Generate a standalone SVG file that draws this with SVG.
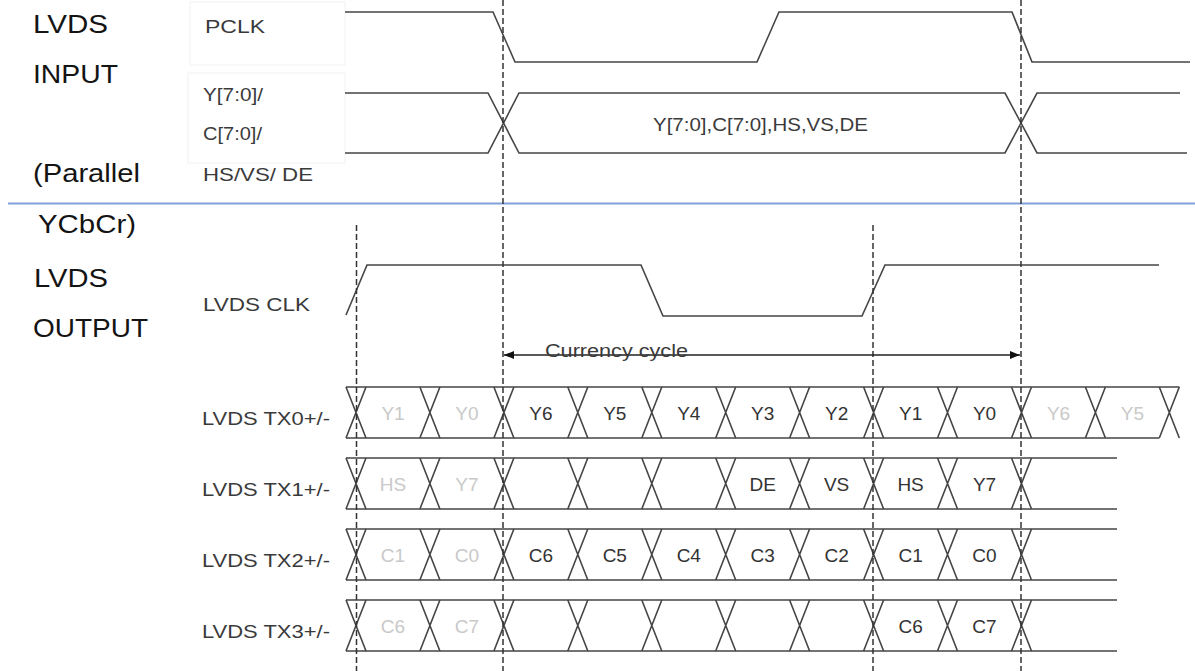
<svg xmlns="http://www.w3.org/2000/svg" xmlns:xlink="http://www.w3.org/1999/xlink" width="1195" height="671" viewBox="0 0 1195 671">
<style>
text{font-family:"Liberation Sans",Arial,sans-serif}
.w{fill:none;stroke:#454545;stroke-width:1.6;stroke-linejoin:miter}
.dash{fill:none;stroke:#333;stroke-width:1.5;stroke-dasharray:6 3}
.big{font-size:26px;fill:#141414}
.lbl{font-size:18px;fill:#3a3a3a}
.cell{font-size:19px;fill:#333;text-anchor:middle}
.g{fill:#c9c9c9}
.faint{fill:none;stroke:#f2f2f2;stroke-width:1}
</style>
<defs>
<path id="x" class="w" d="M-10,0 L10,51 M10,0 L-10,51"/>
<marker id="ah" viewBox="0 0 10 8" refX="10" refY="4" markerWidth="10" markerHeight="8" markerUnits="userSpaceOnUse" orient="auto-start-reverse">
<path d="M0,0 L10,4 L0,8 z" fill="#111"/>
</marker>
</defs>
<rect width="1195" height="671" fill="#fff"/>

<g id="section-labels">
<text class="big" x="33" y="33" textLength="75" lengthAdjust="spacingAndGlyphs">LVDS</text>
<text class="big" x="33" y="83" textLength="85" lengthAdjust="spacingAndGlyphs">INPUT</text>
<text class="big" x="33" y="182" textLength="107" lengthAdjust="spacingAndGlyphs">(Parallel</text>
<text class="big" x="38" y="233" textLength="98" lengthAdjust="spacingAndGlyphs">YCbCr)</text>
<text class="big" x="34" y="287" textLength="74" lengthAdjust="spacingAndGlyphs">LVDS</text>
<text class="big" x="33" y="337" textLength="115" lengthAdjust="spacingAndGlyphs">OUTPUT</text>
<line x1="8" y1="203.5" x2="1195" y2="203.5" stroke="#7fa2d8" stroke-width="2"/>
</g>

<g id="pclk">
<rect class="faint" x="190" y="2" width="155" height="63"/>
<text class="lbl" x="205" y="33" textLength="60" lengthAdjust="spacingAndGlyphs">PCLK</text>
<polyline class="w" points="345,12 493,12 515,62 757,62 779,12 1012,12 1032,62 1190,62"/>
</g>

<g id="parallel-bus">
<rect class="faint" x="188" y="73" width="157" height="90"/>
<text class="lbl" x="203" y="101" textLength="60" lengthAdjust="spacingAndGlyphs">Y[7:0]/</text>
<text class="lbl" x="203" y="140" textLength="59" lengthAdjust="spacingAndGlyphs">C[7:0]/</text>
<text class="lbl" x="203" y="181" textLength="110" lengthAdjust="spacingAndGlyphs">HS/VS/ DE</text>
<polyline class="w" points="345,93 488,93 519,153 1005,153 1037,93 1180,93"/>
<polyline class="w" points="345,153 488,153 519,93 1005,93 1037,153 1187,153"/>
<text class="lbl" x="653" y="131" textLength="215" lengthAdjust="spacingAndGlyphs">Y[7:0],C[7:0],HS,VS,DE</text>
</g>

<g id="lvds-clk">
<text class="lbl" x="203" y="311" textLength="107" lengthAdjust="spacingAndGlyphs">LVDS CLK</text>
<polyline class="w" points="346,315 367,265 641,265 663,316 862,316 885,265 1159,265"/>
</g>

<g id="tx0">
<text class="lbl" x="202" y="425" textLength="128" lengthAdjust="spacingAndGlyphs">LVDS TX0+/-</text>
<path class="w" d="M346,387 H1179.3 M346,438 H1159.3"/>
<use href="#x" x="356" y="387"/><use href="#x" x="429.9" y="387"/><use href="#x" x="503.9" y="387"/><use href="#x" x="577.8" y="387"/><use href="#x" x="651.8" y="387"/><use href="#x" x="725.7" y="387"/><use href="#x" x="799.6" y="387"/><use href="#x" x="873.6" y="387"/><use href="#x" x="947.5" y="387"/><use href="#x" x="1021.5" y="387"/><use href="#x" x="1095.4" y="387"/><use href="#x" x="1169.3" y="387"/>
<text class="cell g" x="393" y="420">Y1</text>
<text class="cell g" x="466.9" y="420">Y0</text>
<text class="cell" x="540.9" y="420">Y6</text>
<text class="cell" x="614.8" y="420">Y5</text>
<text class="cell" x="688.8" y="420">Y4</text>
<text class="cell" x="762.7" y="420">Y3</text>
<text class="cell" x="836.6" y="420">Y2</text>
<text class="cell" x="910.6" y="420">Y1</text>
<text class="cell" x="984.5" y="420">Y0</text>
<text class="cell g" x="1058.5" y="420">Y6</text>
<text class="cell g" x="1132.4" y="420">Y5</text>
</g>

<g id="tx1">
<text class="lbl" x="202" y="496" textLength="128" lengthAdjust="spacingAndGlyphs">LVDS TX1+/-</text>
<path class="w" d="M346,458 H1117 M346,509 H1117"/>
<use href="#x" x="356" y="458"/><use href="#x" x="429.9" y="458"/><use href="#x" x="503.9" y="458"/><use href="#x" x="577.8" y="458"/><use href="#x" x="651.8" y="458"/><use href="#x" x="725.7" y="458"/><use href="#x" x="799.6" y="458"/><use href="#x" x="873.6" y="458"/><use href="#x" x="947.5" y="458"/><use href="#x" x="1021.5" y="458"/>
<text class="cell g" x="393" y="491">HS</text>
<text class="cell g" x="466.9" y="491">Y7</text>
<text class="cell" x="762.7" y="491">DE</text>
<text class="cell" x="836.6" y="491">VS</text>
<text class="cell" x="910.6" y="491">HS</text>
<text class="cell" x="984.5" y="491">Y7</text>
</g>

<g id="tx2">
<text class="lbl" x="202" y="567" textLength="128" lengthAdjust="spacingAndGlyphs">LVDS TX2+/-</text>
<path class="w" d="M346,529 H1117 M346,580 H1117"/>
<use href="#x" x="356" y="529"/><use href="#x" x="429.9" y="529"/><use href="#x" x="503.9" y="529"/><use href="#x" x="577.8" y="529"/><use href="#x" x="651.8" y="529"/><use href="#x" x="725.7" y="529"/><use href="#x" x="799.6" y="529"/><use href="#x" x="873.6" y="529"/><use href="#x" x="947.5" y="529"/><use href="#x" x="1021.5" y="529"/>
<text class="cell g" x="393" y="562">C1</text>
<text class="cell g" x="466.9" y="562">C0</text>
<text class="cell" x="540.9" y="562">C6</text>
<text class="cell" x="614.8" y="562">C5</text>
<text class="cell" x="688.8" y="562">C4</text>
<text class="cell" x="762.7" y="562">C3</text>
<text class="cell" x="836.6" y="562">C2</text>
<text class="cell" x="910.6" y="562">C1</text>
<text class="cell" x="984.5" y="562">C0</text>
</g>

<g id="tx3">
<text class="lbl" x="202" y="638" textLength="128" lengthAdjust="spacingAndGlyphs">LVDS TX3+/-</text>
<path class="w" d="M346,600 H1117 M346,651 H1117"/>
<use href="#x" x="356" y="600"/><use href="#x" x="429.9" y="600"/><use href="#x" x="503.9" y="600"/><use href="#x" x="577.8" y="600"/><use href="#x" x="651.8" y="600"/><use href="#x" x="725.7" y="600"/><use href="#x" x="799.6" y="600"/><use href="#x" x="873.6" y="600"/><use href="#x" x="947.5" y="600"/><use href="#x" x="1021.5" y="600"/>
<text class="cell g" x="393" y="633">C6</text>
<text class="cell g" x="466.9" y="633">C7</text>
<text class="cell" x="910.6" y="633">C6</text>
<text class="cell" x="984.5" y="633">C7</text>
</g>

<g id="connectors">
<line class="dash" x1="503" y1="0" x2="503" y2="671"/>
<line class="dash" x1="1021" y1="0" x2="1021" y2="671"/>
<line class="dash" x1="356.5" y1="225" x2="356.5" y2="671"/>
<line class="dash" x1="873" y1="225" x2="873" y2="671"/>
<line x1="504" y1="355" x2="1020" y2="355" stroke="#222" stroke-width="1.5" marker-start="url(#ah)" marker-end="url(#ah)"/>
<text class="lbl" x="545" y="357" textLength="143" lengthAdjust="spacingAndGlyphs">Currency cycle</text>
</g>
</svg>
